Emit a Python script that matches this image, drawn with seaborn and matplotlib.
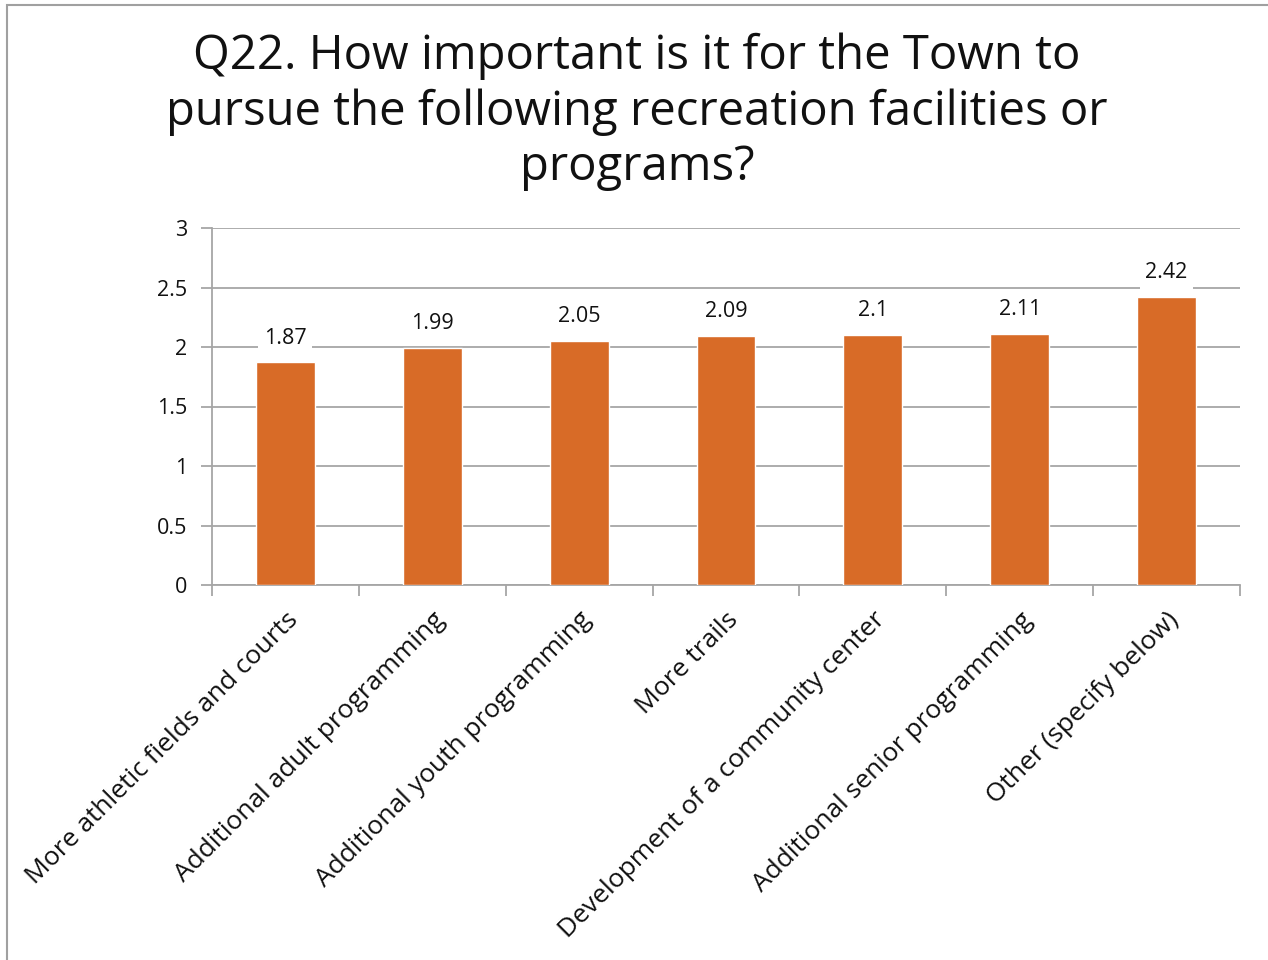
import matplotlib
matplotlib.use("Agg")
import matplotlib.pyplot as plt
import seaborn as sns
import pandas as pd
from matplotlib.patches import Rectangle

categories = [
    "More athletic fields and courts",
    "Additional adult programming",
    "Additional youth programming",
    "More trails",
    "Development of a community center",
    "Additional senior programming",
    "Other (specify below)",
]
values = [1.87, 1.99, 2.05, 2.09, 2.10, 2.11, 2.42]
value_labels = ["1.87", "1.99", "2.05", "2.09", "2.1", "2.11", "2.42"]
y_ticks = [0, 0.5, 1, 1.5, 2, 2.5, 3]
y_tick_labels = ["0", "0.5", "1", "1.5", "2", "2.5", "3"]
title = "Q22. How important is it for the Town to\npursue the following recreation facilities or\nprograms?"

sns.set_theme(style="white")
plt.rcParams["font.family"] = ["Open Sans", "DejaVu Sans"]

df = pd.DataFrame({"category": categories, "value": values})

fig = plt.figure(figsize=(12.68, 9.6), dpi=100)
ax = fig.add_axes([212 / 1268, 1 - 585 / 960, (1240 - 212) / 1268, (585 - 228) / 960])

grid_color = "#a6a6a6"
sns.barplot(data=df, x="category", y="value", color="#D86B27", width=0.4,
            saturation=1, ax=ax, zorder=3)

ax.set_ylim(0, 3)
ax.set_xlim(-0.5, len(categories) - 0.5)
ax.set_yticks(y_ticks)
ax.set_yticklabels(y_tick_labels)
ax.yaxis.grid(True, color=grid_color, linewidth=1.3, zorder=0)
ax.set_axisbelow(True)
for s in ["top", "right"]:
    ax.spines[s].set_visible(False)
for s in ["left", "bottom"]:
    ax.spines[s].set_color(grid_color)
    ax.spines[s].set_linewidth(1.3)
ax.set_xlabel("")
ax.set_ylabel("")

# y ticks to the left, x ticks at category boundaries
ax.tick_params(axis="y", which="major", left=True, length=8, width=1.3,
               color=grid_color, labelsize=15.5, pad=10, labelcolor="#111111")
ax.set_xticks(range(len(categories)))
ax.set_xticklabels(categories, rotation=45, ha="right", rotation_mode="anchor",
                   fontsize=19, color="#111111")
ax.tick_params(axis="x", which="major", bottom=False, pad=10)
ax.set_xticks([i + 0.5 for i in range(-1, len(categories))], minor=True)
ax.tick_params(axis="x", which="minor", bottom=True, length=8, width=1.3,
               color=grid_color)

for i, (v, lab) in enumerate(zip(values, value_labels)):
    ax.annotate(lab, (i, v), xytext=(0, 10), textcoords="offset points",
                ha="center", va="bottom", fontsize=15.5, color="#111111",
                bbox=dict(facecolor="white", edgecolor="none", pad=4),
                zorder=5)

fig.text(637 / 1268, 1 - 112 / 960, title, ha="center", va="center",
         fontsize=34, color="#111111", linespacing=1.22)

# slide frame
fig.patches.append(Rectangle((7 / 1268, -0.05), 1.1, 1 - 5 / 960 + 0.05,
                             transform=fig.transFigure, fill=False,
                             edgecolor="#a0a0a0", linewidth=1.5))

fig.savefig("out.png", dpi=100, facecolor="white")
